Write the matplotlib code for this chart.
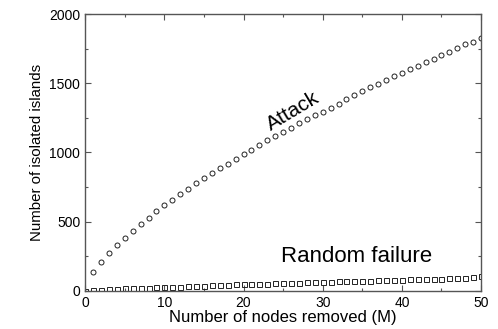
import matplotlib.pyplot as plt
from matplotlib.ticker import MultipleLocator

plt.rcParams['font.family'] = ['Liberation Sans', 'DejaVu Sans']

# attack series (circles), x = 1..50
attack_x = list(range(1, 51))
attack_y = [135, 210, 270, 328, 382, 433, 480, 527, 577, 621,
            660, 703, 739, 780, 814, 850, 887, 920, 954, 990,
            1021, 1055, 1087, 1118, 1150, 1179, 1210, 1239, 1268, 1295,
            1322, 1353, 1384, 1413, 1442, 1471, 1497, 1525, 1553, 1577,
            1604, 1628, 1654, 1679, 1705, 1730, 1756, 1783, 1802, 1828]

# random failure series (squares), x = 0..50
random_x = list(range(0, 51))
random_y = [0, 3, 8, 12, 15, 17, 19, 21, 23, 25,
            27, 29, 31, 33, 36, 38, 40, 42, 44, 46,
            48, 50, 52, 53, 55, 57, 58, 60, 62, 63,
            65, 66, 68, 69, 71, 72, 74, 75, 77, 78,
            80, 82, 83, 85, 87, 89, 91, 93, 96, 99, 104]

fig = plt.figure(figsize=(4.98, 3.29), dpi=100)
ax = fig.add_axes([0.171, 0.116, 0.795, 0.841])

ax.plot(attack_x, attack_y, linestyle='none', marker='o', markersize=3.6,
        markerfacecolor='none', markeredgecolor='#222222', markeredgewidth=0.7)
ax.plot(random_x, random_y, linestyle='none', marker='s', markersize=3.6,
        markerfacecolor='none', markeredgecolor='#222222', markeredgewidth=0.7)

ax.set_xlim(0, 50)
ax.set_ylim(0, 2000)
ax.xaxis.set_major_locator(MultipleLocator(10))
ax.xaxis.set_minor_locator(MultipleLocator(5))
ax.yaxis.set_major_locator(MultipleLocator(500))
ax.yaxis.set_minor_locator(MultipleLocator(250))
ax.tick_params(which='both', direction='in', top=True, right=True,
               labelsize=10, color='#555555', width=0.8)
ax.tick_params(which='major', length=4)
ax.tick_params(which='minor', length=2.5)
for s in ax.spines.values():
    s.set_color('#555555')
    s.set_linewidth(1.0)

ax.set_xlabel('Number of nodes removed (M)', fontsize=12, labelpad=0)
ax.set_ylabel('Number of isolated islands', fontsize=10.8, labelpad=4)

ax.text(26.2, 1300, 'Attack', fontsize=15, rotation=31, ha='center', va='center')
ax.text(34.3, 245, 'Random failure', fontsize=16, ha='center', va='center')

fig.savefig('out.png', dpi=100)
